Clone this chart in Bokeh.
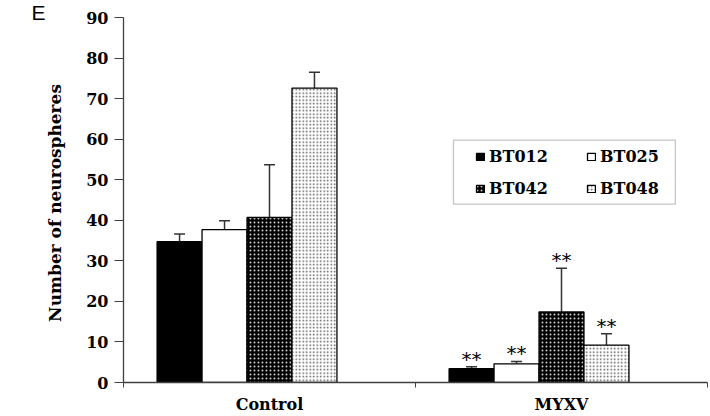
from bokeh.plotting import figure
from bokeh.models import (Range1d, FixedTicker, Legend, LegendItem, Whisker, TeeHead,
                          ColumnDataSource, BoxAnnotation, Label)
from bokeh.core.properties import value
from bokeh.embed import file_html
from bokeh.resources import INLINE

# ---- data ----
groups = ["Control", "MYXV"]
strains = ["BT012", "BT025", "BT042", "BT048"]
bt012_mean = [34.7, 3.4]
bt025_mean = [37.7, 4.6]
bt042_mean = [40.7, 17.4]
bt048_mean = [72.6, 9.2]
bt012_err = [1.9, 0.5]
bt025_err = [2.2, 0.6]
bt042_err = [13.0, 10.8]
bt048_err = [3.9, 2.8]
bt012_sig = ["", "**"]
bt025_sig = ["", "**"]
bt042_sig = ["", "**"]
bt048_sig = ["", "**"]
y_ticks = [0, 10, 20, 30, 40, 50, 60, 70, 80, 90]

means = [bt012_mean, bt025_mean, bt042_mean, bt048_mean]
errs = [bt012_err, bt025_err, bt042_err, bt048_err]
sigs = [bt012_sig, bt025_sig, bt042_sig, bt048_sig]

n_slots = 5          # Excel-style cluster with an empty fifth slot
bar_w = 0.154

W, H = 710, 416
BL, BR, BT, BB = 123, 3, 17, 33

p = figure(width=W, height=H, output_backend="svg", toolbar_location=None,
           x_range=Range1d(0, 2), y_range=Range1d(0, 90),
           min_border_left=BL, min_border_right=BR, min_border_top=BT, min_border_bottom=BB)
p.outline_line_color = None
p.xgrid.visible = False
p.ygrid.visible = False
p.background_fill_color = "white"

styles = [
    dict(fill_color="black", line_color="black"),
    dict(fill_color="white", line_color="black"),
    dict(fill_color="black", line_color="black", hatch_pattern="dot", hatch_color="#cccccc",
         hatch_scale=4.0, hatch_weight=0.8),
    dict(fill_color="white", line_color="black", hatch_pattern="dot", hatch_color="#555555",
         hatch_scale=3.5, hatch_weight=1.0),
]

renderers = {}
for i, (name, m, e, s) in enumerate(zip(strains, means, errs, sigs)):
    xs = [g + 0.5 + (i - (n_slots - 1) / 2) * bar_w for g in range(len(groups))]
    tops = [a + b for a, b in zip(m, e)]
    src = ColumnDataSource(dict(x=xs, top=m, upper=tops, sig=s))
    r = p.vbar(x="x", top="top", width=bar_w, bottom=0, source=src, line_width=1.3, **styles[i])
    renderers[name] = r
    w = Whisker(base="x", lower="top", upper="upper", source=src, dimension="height",
                line_color="#333333", line_width=1.5, lower_head=None,
                upper_head=TeeHead(size=11, line_color="#333333", line_width=1.5))
    p.add_layout(w)
    p.text(x="x", y="upper", text="sig", source=src, text_align="center",
           text_baseline="alphabetic", y_offset=-8, text_font=value("DejaVu Sans"),
           text_font_size="20px", text_color="black")

# axes
p.yaxis.ticker = FixedTicker(ticks=y_ticks)
p.yaxis.axis_label = "Number of  neurospheres"
p.yaxis.axis_label_text_font = "DejaVu Serif"
p.yaxis.axis_label_text_font_style = "bold"
p.yaxis.axis_label_text_font_size = "17px"
p.yaxis.axis_label_standoff = 18
p.yaxis.major_label_text_font = "DejaVu Serif"
p.yaxis.major_label_text_font_style = "bold"
p.yaxis.major_label_text_font_size = "16px"
p.yaxis.major_label_standoff = 6
p.yaxis.major_tick_out = 9
p.yaxis.major_tick_in = 0
p.yaxis.minor_tick_line_color = None

p.xaxis.ticker = FixedTicker(ticks=[0.5, 1.5], minor_ticks=[0, 1, 2])
p.xaxis.major_label_overrides = {0.5: groups[0], 1.5: groups[1]}
p.xaxis.major_label_text_font = "DejaVu Serif"
p.xaxis.major_label_text_font_style = "bold"
p.xaxis.major_label_text_font_size = "16px"
p.xaxis.major_label_standoff = 7
p.xaxis.major_tick_out = 0
p.xaxis.major_tick_in = 0
p.xaxis.minor_tick_out = 5
p.xaxis.minor_tick_in = 0

for ax in (p.xaxis, p.yaxis):
    ax.axis_line_color = "#404040"
    ax.axis_line_width = 1.3
    ax.major_tick_line_color = "#404040"
    ax.minor_tick_line_color = "#404040"
    ax.major_label_text_color = "black"
    ax.axis_label_text_color = "black"
p.yaxis.minor_tick_line_color = None

# legend (column-major fill: BT012/BT042 in column 1, BT025/BT048 in column 2)
order = ["BT012", "BT042", "BT025", "BT048"]
legend = Legend(items=[LegendItem(label=n, renderers=[renderers[n]]) for n in order],
                ncols=2, location=(352, 184), padding=0, margin=0, spacing=12,
                glyph_width=10, glyph_height=9, label_standoff=4, label_width=85,
                label_height=20,
                label_text_font="DejaVu Serif", label_text_font_style="bold",
                label_text_font_size="16px", label_text_color="black",
                border_line_alpha=0, background_fill_alpha=0)
p.add_layout(legend)
p.add_layout(BoxAnnotation(left=1.130, right=1.890, bottom=44.0, top=59.75,
                           fill_alpha=0, line_color="#404040", line_width=1.3))

# panel letter, rendered in the left side panel (outside the clipped frame)
p.add_layout(Label(x=3, y=H - BB - 13, x_units="screen", y_units="screen",
                   text="E", text_baseline="alphabetic",
                   text_font="Liberation Sans", text_font_size="21px", text_color="black"),
             "left")

open("out.html", "w").write(file_html(p, INLINE))
